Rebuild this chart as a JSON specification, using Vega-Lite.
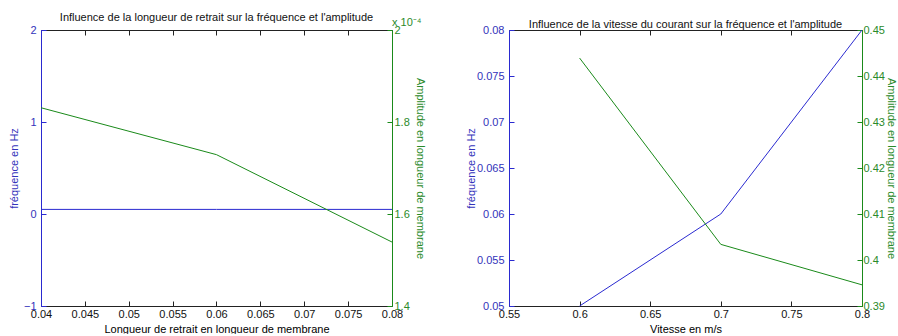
{
  "$schema": "https://vega.github.io/schema/vega-lite/v6.json",
  "padding": {"left": 8, "top": 12, "right": 0, "bottom": 0},
  "spacing": 39,
  "config": {
    "font": "Liberation Sans",
    "view": {"stroke": null},
    "axis": {"grid": false, "labelFontSize": 11, "titleFontSize": 11, "titleFontWeight": "normal", "labelColor": "#111", "domainColor": "#222", "tickColor": "#222", "tickSize": -5, "labelPadding": 8, "labelFlush": false, "labelOverlap": false},
    "title": {"fontSize": 11, "fontWeight": "normal", "color": "#111", "offset": -6}
  },
  "datasets": {
    "p1": [
      {"x": 0.04, "freq": 0.05, "amp": 1.831},
      {"x": 0.06, "freq": 0.05, "amp": 1.729},
      {"x": 0.08, "freq": 0.05, "amp": 1.539}
    ],
    "p2": [
      {"x": 0.6, "freq": 0.05, "amp": 0.4439},
      {"x": 0.7, "freq": 0.06, "amp": 0.4034},
      {"x": 0.8, "freq": 0.08, "amp": 0.3946}
    ],
    "exp": [{"x": 0.08, "amp": 2.0, "t": "x 10⁻⁴"}]
  },
  "hconcat": [
    {
      "width": 351,
      "height": 276,
      "title": "Influence de la longueur de retrait sur la fréquence et l'amplitude",
      "layer": [
        {
          "data": {"name": "p1"},
          "mark": {"type": "line", "color": "#2a2ad0", "strokeWidth": 1},
          "encoding": {
            "x": {"field": "x", "type": "quantitative", "scale": {"domain": [0.04, 0.08], "nice": false, "zero": false},
              "axis": {"orient": "bottom", "values": [0.04, 0.045, 0.05, 0.055, 0.06, 0.065, 0.07, 0.075, 0.08], "format": ".3~f", "labelPadding": 7, "title": "Longueur de retrait en longueur de membrane", "titlePadding": 4}},
            "y": {"field": "freq", "type": "quantitative", "scale": {"domain": [-1, 2], "nice": false, "zero": false},
              "axis": {"orient": "left", "values": [-1, 0, 1, 2], "labelPadding": 10, "title": "fréquence en Hz", "titleColor": "#3333bb", "labelColor": "#3333bb", "domainColor": "#2a2ad0", "tickColor": "#2a2ad0", "titlePadding": 4}}
          }
        },
        {
          "data": {"name": "p1"},
          "mark": {"type": "line", "color": "#1a8a1a", "strokeWidth": 1},
          "encoding": {
            "x": {"field": "x", "type": "quantitative", "scale": {"domain": [0.04, 0.08], "nice": false, "zero": false},
              "axis": {"orient": "top", "values": [0.04, 0.045, 0.05, 0.055, 0.06, 0.065, 0.07, 0.075, 0.08], "labels": false, "title": null}},
            "y": {"field": "amp", "type": "quantitative", "scale": {"domain": [1.4, 2], "nice": false, "zero": false},
              "axis": {"orient": "right", "values": [1.4, 1.6, 1.8, 2], "format": ".1~f", "labelPadding": 7, "title": "Amplitude en longueur de membrane", "titleColor": "#2a8a2a", "labelColor": "#2a8a2a", "domainColor": "#1a8a1a", "tickColor": "#1a8a1a", "titlePadding": 5}}
          }
        },
        {
          "data": {"name": "exp"},
          "mark": {"type": "text", "align": "left", "baseline": "bottom", "dy": -2, "dx": 0, "fontSize": 11, "color": "#2a8a2a"},
          "encoding": {
            "x": {"field": "x", "type": "quantitative", "scale": {"domain": [0.04, 0.08], "nice": false, "zero": false}, "axis": null},
            "y": {"field": "amp", "type": "quantitative", "scale": {"domain": [1.4, 2], "nice": false, "zero": false}, "axis": null},
            "text": {"field": "t"}
          }
        }
      ],
      "resolve": {"scale": {"x": "independent", "y": "independent"}, "axis": {"x": "independent", "y": "independent"}}
    },
    {
      "width": 353,
      "height": 276,
      "title": "Influence de la vitesse du courant sur la fréquence et l'amplitude",
      "layer": [
        {
          "data": {"name": "p2"},
          "mark": {"type": "line", "color": "#2a2ad0", "strokeWidth": 1},
          "encoding": {
            "x": {"field": "x", "type": "quantitative", "scale": {"domain": [0.55, 0.8], "nice": false, "zero": false},
              "axis": {"orient": "bottom", "values": [0.55, 0.6, 0.65, 0.7, 0.75, 0.8], "format": ".2~f", "labelPadding": 7, "title": "Vitesse en m/s", "titlePadding": 4}},
            "y": {"field": "freq", "type": "quantitative", "scale": {"domain": [0.05, 0.08], "nice": false, "zero": false},
              "axis": {"orient": "left", "values": [0.05, 0.055, 0.06, 0.065, 0.07, 0.075, 0.08], "format": ".3~f", "labelPadding": 10, "title": "fréquence en Hz", "titleColor": "#3333bb", "labelColor": "#3333bb", "domainColor": "#2a2ad0", "tickColor": "#2a2ad0", "titlePadding": 0}}
          }
        },
        {
          "data": {"name": "p2"},
          "mark": {"type": "line", "color": "#1a8a1a", "strokeWidth": 1},
          "encoding": {
            "x": {"field": "x", "type": "quantitative", "scale": {"domain": [0.55, 0.8], "nice": false, "zero": false},
              "axis": {"orient": "top", "values": [0.55, 0.6, 0.65, 0.7, 0.75, 0.8], "labels": false, "title": null}},
            "y": {"field": "amp", "type": "quantitative", "scale": {"domain": [0.39, 0.45], "nice": false, "zero": false},
              "axis": {"orient": "right", "values": [0.39, 0.4, 0.41, 0.42, 0.43, 0.44, 0.45], "format": ".2~f", "labelPadding": 6, "title": "Amplitude en longueur de membrane", "titleColor": "#2a8a2a", "labelColor": "#2a8a2a", "domainColor": "#1a8a1a", "tickColor": "#1a8a1a", "titlePadding": 1}}
          }
        }
      ],
      "resolve": {"scale": {"x": "independent", "y": "independent"}, "axis": {"x": "independent", "y": "independent"}}
    }
  ]
}
